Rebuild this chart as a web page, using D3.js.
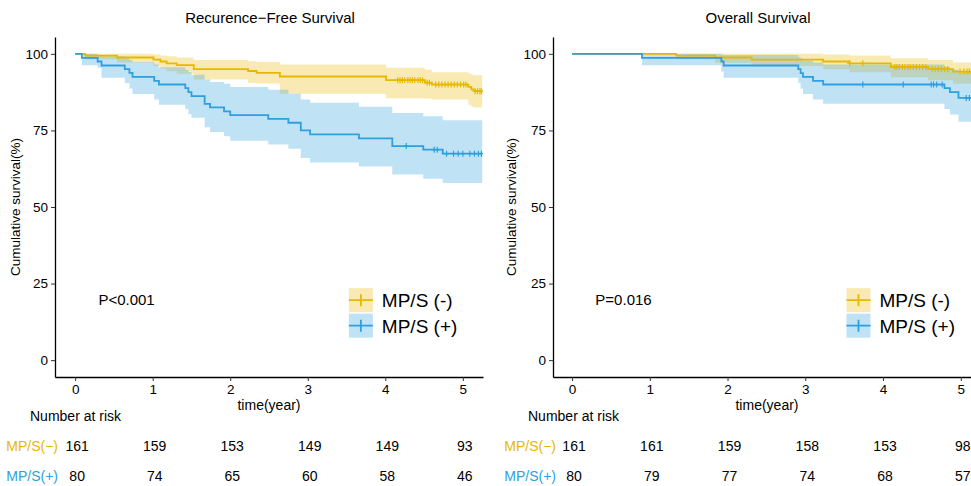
<!DOCTYPE html>
<html>
<head>
<meta charset="utf-8">
<script src="https://cdn.jsdelivr.net/npm/d3@7"></script>
<style>
  body { margin: 0; background: #fff; }
  svg { font-family: "Liberation Sans", Arial, sans-serif; }
</style>
</head>
<body>
<svg id="chart" width="971" height="486"></svg>
<script>
// ---- data ----
var yTicks = [0, 25, 50, 75, 100];
var xTicks = [0, 1, 2, 3, 4, 5];
var groupNames = ["MP/S (-)", "MP/S (+)"];
var riskNames = ["MP/S(\u2212)", "MP/S(+)"];
var endTime = 5.25;

// recurrence-free survival, MP/S(-)
var rfsNegTime  = [0, 0.13, 0.54, 1.01, 1.10, 1.18, 1.31, 1.53, 2.23, 2.34, 2.64, 4.01, 4.51, 4.60, 5.07, 5.11, 5.14];
var rfsNegSurv  = [100, 99.4, 98.8, 98.1, 97.5, 96.9, 96.3, 95.0, 94.4, 93.8, 92.6, 91.4, 90.6, 90.0, 89.2, 88.4, 87.8];
var rfsNegLower = [100, 98.2, 97.2, 96.0, 95.2, 94.3, 93.5, 91.6, 90.5, 90.3, 87.0, 85.5, 85.3, 85.1, 83.4, 82.7, 82.5];
var rfsNegUpper = [100, 100, 100, 99.8, 99.5, 99.2, 98.8, 98.0, 97.6, 97.3, 96.5, 95.5, 94.8, 94.0, 93.6, 93.2, 93.0];
var rfsNegCensor = [4.16, 4.19, 4.22, 4.25, 4.29, 4.32, 4.35, 4.38, 4.42, 4.45, 4.48, 4.54, 4.57, 4.65, 4.69, 4.73,
                    4.77, 4.81, 4.85, 4.89, 4.93, 4.97, 5.01, 5.04, 5.16, 5.19, 5.22, 5.24];

// recurrence-free survival, MP/S(+)
var rfsPosTime  = [0, 0.086, 0.29, 0.34, 0.64, 0.70, 0.74, 1.02, 1.08, 1.42, 1.46, 1.50, 1.67, 1.74, 1.92, 2.00, 2.49, 2.75, 2.91, 3.03, 3.66, 4.09, 4.49, 4.74];
var rfsPosSurv  = [100, 98.7, 97.5, 96.2, 95.0, 93.8, 92.5, 91.2, 90.0, 88.8, 87.5, 86.2, 83.7, 82.5, 81.2, 80.0, 78.8, 77.5, 75.0, 73.7, 72.4, 69.9, 68.7, 67.4];
var rfsPosLower = [100, 96.3, 95.5, 92.2, 90.5, 88.7, 86.9, 85.1, 83.4, 82.0, 80.4, 79.1, 76.0, 74.5, 73.1, 71.6, 70.4, 69.0, 66.0, 64.5, 63.2, 60.6, 59.2, 57.8];
var rfsPosUpper = [100, 100, 99.6, 99.2, 98.6, 98.0, 97.3, 96.5, 95.6, 94.8, 94.0, 93.2, 91.6, 90.8, 90.2, 89.2, 88.3, 87.0, 85.1, 84.0, 82.7, 80.7, 79.6, 78.3];
var rfsPosCensor = [4.27, 4.63, 4.67, 4.79, 4.88, 4.94, 5.00, 5.09, 5.15, 5.20, 5.24];

// overall survival, MP/S(-)
var osNegTime  = [0, 1.34, 1.84, 2.31, 3.23, 3.57, 4.10, 4.58, 4.90];
var osNegSurv  = [100, 99.4, 98.8, 98.1, 97.5, 96.9, 95.7, 95.0, 94.2];
var osNegLower = [100, 98.2, 97.1, 96.0, 95.0, 94.0, 92.4, 91.4, 90.2];
var osNegUpper = [100, 100, 100, 100, 99.8, 99.5, 98.6, 98.0, 97.2];
var osNegCensor = [3.57, 3.74, 4.15, 4.18, 4.21, 4.25, 4.28, 4.32, 4.35, 4.39, 4.43, 4.47, 4.51, 4.55,
                   4.63, 4.67, 4.71, 4.75, 4.79, 4.83, 4.99, 5.04, 5.08, 5.11, 5.16, 5.20];

// overall survival, MP/S(+)
var osPosTime  = [0, 0.90, 1.92, 1.95, 2.91, 2.94, 2.97, 3.10, 3.23, 4.79, 4.86, 4.97];
var osPosSurv  = [100, 98.7, 97.5, 96.2, 95.0, 93.7, 92.5, 91.2, 90.0, 88.8, 87.5, 85.6];
var osPosLower = [100, 96.3, 94.2, 92.2, 90.5, 88.7, 86.9, 85.1, 83.7, 82.0, 80.2, 77.8];
var osPosUpper = [100, 100, 99.8, 99.6, 99.0, 98.5, 97.8, 97.2, 96.5, 95.8, 94.8, 93.8];
var osPosCensor = [3.74, 4.26, 4.62, 4.65, 4.69, 4.76, 5.07, 5.11, 5.16, 5.20];

// number at risk
var rfsRiskNeg = [161, 159, 153, 149, 149, 93];
var rfsRiskPos = [80, 74, 65, 60, 58, 46];
var osRiskNeg = [161, 161, 159, 158, 153, 98];
var osRiskPos = [80, 79, 77, 74, 68, 57];

var colors = ["#E7B800", "#2E9FDF"];

var svg = d3.select("#chart");
var plotTop = 37, plotBottom = 377;

function stepValue(times, vals, t) {
    var i = d3.bisectRight(times, t) - 1;
    return vals[Math.max(0, i)];
}

function drawPanel(p) {
    var x = d3.scaleLinear().domain(p.xDomain).range([p.left, p.right]);
    var y = d3.scaleLinear().domain([-5.5, 105.5]).range([plotBottom, plotTop]);

    var g = svg.append("g");
    var clipId = "clip" + p.id;
    svg.append("clipPath").attr("id", clipId)
        .append("rect")
        .attr("x", p.left).attr("y", plotTop)
        .attr("width", p.right - p.left).attr("height", plotBottom - plotTop);

    var plot = g.append("g").attr("clip-path", "url(#" + clipId + ")");

    var area = d3.area()
        .curve(d3.curveStepAfter)
        .x(function (d) { return x(d.t); })
        .y0(function (d) { return y(d.lo); })
        .y1(function (d) { return y(d.hi); });
    var line = d3.line()
        .curve(d3.curveStepAfter)
        .x(function (d) { return x(d.t); })
        .y(function (d) { return y(d.s); });

    var series = p.curves.map(function (c) {
        var pts = c.time.map(function (t, i) {
            return { t: t, s: c.surv[i], lo: c.lower[i], hi: c.upper[i] };
        });
        var last = pts[pts.length - 1];
        pts.push({ t: endTime, s: last.s, lo: last.lo, hi: last.hi });
        return pts;
    });

    series.forEach(function (pts, k) {
        plot.append("path")
            .attr("d", area(pts))
            .attr("fill", colors[k])
            .attr("fill-opacity", 0.3);
    });
    series.forEach(function (pts, k) {
        var c = p.curves[k];
        plot.append("path")
            .attr("d", line(pts))
            .attr("fill", "none")
            .attr("stroke", colors[k])
            .attr("stroke-width", 1.8);
        // censor marks
        plot.selectAll(".cens" + k)
            .data(c.censor)
            .join("path")
            .attr("d", function (t) {
                var cx = x(t), cy = y(stepValue(c.time, c.surv, t));
                return "M" + cx + "," + (cy - 3) + "V" + (cy + 3) + "M" + (cx - 2.5) + "," + cy + "H" + (cx + 2.5);
            })
            .attr("stroke", colors[k])
            .attr("stroke-width", 1.2);
    });

    // axes
    var yAxis = g.append("g")
        .attr("transform", "translate(" + p.left + ",0)")
        .call(d3.axisLeft(y).tickValues(yTicks).tickFormat(d3.format("d")).tickSize(4).tickSizeOuter(0).tickPadding(3));
    var xAxis = g.append("g")
        .attr("transform", "translate(0," + plotBottom + ")")
        .call(d3.axisBottom(x).tickValues(xTicks).tickFormat(d3.format("d")).tickSize(4).tickSizeOuter(0).tickPadding(3));
    [yAxis, xAxis].forEach(function (a) {
        a.select(".domain").attr("stroke", "#000").attr("stroke-width", 1.3);
        a.selectAll(".tick line").attr("stroke", "#333").attr("stroke-width", 1);
        a.selectAll(".tick text").attr("fill", "#000").style("font-size", "13.5px").style("font-family", "inherit");
    });

    // titles
    g.append("text").attr("x", p.titleX).attr("y", 23)
        .attr("text-anchor", "middle").style("font-size", "15px").text(p.title);
    g.append("text").attr("transform", "translate(" + p.yLabelX + "," + ((plotTop + plotBottom) / 2) + ") rotate(-90)")
        .attr("text-anchor", "middle").style("font-size", "13.5px").text("Cumulative survival(%)");
    g.append("text").attr("x", (p.left + p.right) / 2).attr("y", 410)
        .attr("text-anchor", "middle").style("font-size", "14px").text("time(year)");

    // p value
    g.append("text").attr("x", x(0.3)).attr("y", y(20) + 6)
        .style("font-size", "15px").text(p.pText);

    // legend
    var lx = x(3.53), ly = y(23.5);
    groupNames.forEach(function (name, k) {
        var ky = ly + k * 25.5;
        g.append("rect").attr("x", lx).attr("y", ky).attr("width", 24).attr("height", 24)
            .attr("fill", colors[k]).attr("fill-opacity", 0.3);
        g.append("path")
            .attr("d", "M" + lx + "," + (ky + 12) + "H" + (lx + 24) + "M" + (lx + 12) + "," + (ky + 6) + "V" + (ky + 18))
            .attr("stroke", colors[k]).attr("stroke-width", 1.8);
        g.append("text").attr("x", lx + 33).attr("y", ky + 19)
            .style("font-size", "19px").text(name);
    });

    // number at risk
    g.append("text").attr("x", p.left - 25).attr("y", 421)
        .style("font-size", "14px").text("Number at risk");
    [p.riskNeg, p.riskPos].forEach(function (vals, k) {
        var ry = 451 + k * 30;
        g.append("text").attr("x", p.left + 3).attr("y", ry)
            .attr("text-anchor", "end").attr("fill", colors[k])
            .style("font-size", "14px").text(riskNames[k]);
        g.selectAll(".risk" + k)
            .data(vals)
            .join("text")
            .attr("x", function (d, i) { return x(xTicks[i]) + 2; })
            .attr("y", ry)
            .attr("text-anchor", "middle")
            .style("font-size", "14px")
            .text(function (d) { return d; });
    });
}

drawPanel({
    id: "rfs", left: 55, right: 483, xDomain: [-0.26, 5.26],
    title: "Recurence\u2212Free Survival", titleX: 270, yLabelX: 20, pText: "P<0.001",
    curves: [
        { time: rfsNegTime, surv: rfsNegSurv, lower: rfsNegLower, upper: rfsNegUpper, censor: rfsNegCensor },
        { time: rfsPosTime, surv: rfsPosSurv, lower: rfsPosLower, upper: rfsPosUpper, censor: rfsPosCensor }
    ],
    riskNeg: rfsRiskNeg, riskPos: rfsRiskPos
});

drawPanel({
    id: "os", left: 553, right: 981, xDomain: [-0.245, 5.26],
    title: "Overall Survival", titleX: 758, yLabelX: 516, pText: "P=0.016",
    curves: [
        { time: osNegTime, surv: osNegSurv, lower: osNegLower, upper: osNegUpper, censor: osNegCensor },
        { time: osPosTime, surv: osPosSurv, lower: osPosLower, upper: osPosUpper, censor: osPosCensor }
    ],
    riskNeg: osRiskNeg, riskPos: osRiskPos
});
</script>
</body>
</html>
